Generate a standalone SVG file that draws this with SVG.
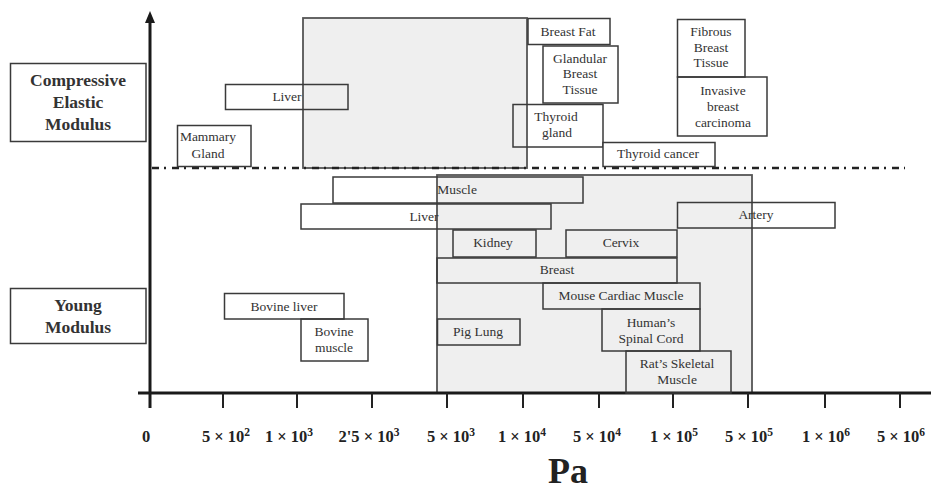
<svg xmlns="http://www.w3.org/2000/svg" width="931" height="490" viewBox="0 0 931 490">
<style>
.bx{fill:none;stroke:#3a3a3a;stroke-width:1.5}
.bxw{fill:#fff;stroke:#3a3a3a;stroke-width:1.5}
.rg{fill:#efefef;stroke:#555;stroke-width:1.8}
.t{font-family:"Liberation Serif","Times New Roman",serif;font-size:13.5px;fill:#333;text-anchor:middle}
.h{font-family:"Liberation Serif","Times New Roman",serif;font-size:17.5px;font-weight:bold;fill:#333;text-anchor:middle}
.tk{font-family:"Liberation Serif","Times New Roman",serif;font-size:16.5px;font-weight:bold;fill:#222;text-anchor:middle}
.ax{stroke:#1a1a1a;stroke-width:3;fill:none}
.tick{stroke:#222;stroke-width:2}
</style>
<rect width="931" height="490" fill="#fff"/>

<g id="region-compressive"><rect class="rg" x="303" y="18" width="224" height="150"/></g>
<g id="region-young"><rect class="rg" x="437" y="175" width="315" height="218"/></g>

<g id="connectors">
<line class="ax" x1="150" y1="408" x2="150" y2="22"/>
<path d="M150,11 L155,23 L145,23 Z" fill="#1a1a1a"/>
<line class="ax" x1="138" y1="393" x2="931" y2="393"/>
<line x1="152" y1="168" x2="905" y2="168" stroke="#222" stroke-width="2.5" stroke-dasharray="7 5 2 6"/>
<g class="tick">
<line x1="223" y1="393" x2="223" y2="408"/>
<line x1="297" y1="393" x2="297" y2="408"/>
<line x1="372" y1="393" x2="372" y2="408"/>
<line x1="447" y1="393" x2="447" y2="408"/>
<line x1="523" y1="393" x2="523" y2="408"/>
<line x1="599" y1="393" x2="599" y2="408"/>
<line x1="673" y1="393" x2="673" y2="408"/>
<line x1="748" y1="393" x2="748" y2="408"/>
<line x1="825" y1="393" x2="825" y2="408"/>
<line x1="900" y1="393" x2="900" y2="408"/>
</g>
</g>

<g id="axis-labels">
<text class="tk" x="146" y="442">0</text>
<text class="tk" x="226" y="442">5 × 10<tspan dy="-6" font-size="11.5">2</tspan></text>
<text class="tk" x="289" y="442">1 × 10<tspan dy="-6" font-size="11.5">3</tspan></text>
<text class="tk" x="369" y="442">2'5 × 10<tspan dy="-6" font-size="11.5">3</tspan></text>
<text class="tk" x="451" y="442">5 × 10<tspan dy="-6" font-size="11.5">3</tspan></text>
<text class="tk" x="522" y="442">1 × 10<tspan dy="-6" font-size="11.5">4</tspan></text>
<text class="tk" x="597" y="442">5 × 10<tspan dy="-6" font-size="11.5">4</tspan></text>
<text class="tk" x="674" y="442">1 × 10<tspan dy="-6" font-size="11.5">5</tspan></text>
<text class="tk" x="749" y="442">5 × 10<tspan dy="-6" font-size="11.5">5</tspan></text>
<text class="tk" x="826" y="442">1 × 10<tspan dy="-6" font-size="11.5">6</tspan></text>
<text class="tk" x="901" y="442">5 × 10<tspan dy="-6" font-size="11.5">6</tspan></text>
<text x="568" y="483" font-family="Liberation Serif, Times New Roman, serif" font-size="36" font-weight="bold" fill="#222" text-anchor="middle">Pa</text>
</g>

<g id="label-compressive">
<rect class="bxw" x="10.5" y="63.5" width="135.5" height="78"/>
<text class="h" x="78" y="86">Compressive</text>
<text class="h" x="78" y="108">Elastic</text>
<text class="h" x="78" y="130">Modulus</text>
</g>
<g id="label-young">
<rect class="bxw" x="10.5" y="288.5" width="135.5" height="55"/>
<text class="h" x="78" y="311">Young</text>
<text class="h" x="78" y="333">Modulus</text>
</g>

<g id="liver-c"><rect class="bx" x="225.5" y="84.5" width="122.5" height="25"/><text class="t" x="287" y="101">Liver</text></g>
<g id="mammary-gland"><rect class="bxw" x="177.5" y="125.5" width="73.5" height="41"/><text class="t" x="208" y="141">Mammary</text><text class="t" x="208" y="158">Gland</text></g>
<g id="breast-fat"><rect class="bx" x="528" y="18.5" width="82" height="26"/><text class="t" x="568" y="36">Breast Fat</text></g>
<g id="glandular"><rect class="bx" x="543" y="46" width="75" height="57"/><text class="t" x="580" y="63">Glandular</text><text class="t" x="580" y="78">Breast</text><text class="t" x="580" y="94">Tissue</text></g>
<g id="thyroid-gland"><rect class="bx" x="513" y="104.5" width="90" height="42.5"/><text class="t" x="556" y="121">Thyroid</text><text class="t" x="557" y="137">gland</text></g>
<g id="thyroid-cancer"><rect class="bxw" x="603" y="142.5" width="112" height="24"/><text class="t" x="658" y="158">Thyroid cancer</text></g>
<g id="fibrous"><rect class="bx" x="677.5" y="19.5" width="67.5" height="57.5"/><text class="t" x="711" y="36">Fibrous</text><text class="t" x="711" y="52">Breast</text><text class="t" x="711" y="67">Tissue</text></g>
<g id="invasive"><rect class="bx" x="677.5" y="77" width="89.5" height="59"/><text class="t" x="723" y="95">Invasive</text><text class="t" x="723" y="111">breast</text><text class="t" x="723" y="127">carcinoma</text></g>

<g id="muscle"><rect class="bx" x="333" y="177" width="250" height="26"/><text class="t" x="457" y="194">Muscle</text></g>
<g id="liver-y"><rect class="bx" x="301" y="204" width="250" height="25"/><text class="t" x="424" y="221">Liver</text></g>
<g id="artery"><rect class="bx" x="677.5" y="202.5" width="157.5" height="25.5"/><text class="t" x="756" y="219">Artery</text></g>
<g id="kidney"><rect class="bx" x="453" y="230" width="83" height="27" stroke-width="2"/><text class="t" x="493" y="247">Kidney</text></g>
<g id="cervix"><rect class="bx" x="566" y="230" width="111" height="27" stroke-width="2"/><text class="t" x="621" y="247">Cervix</text></g>
<g id="breast"><rect class="bx" x="437" y="258" width="240" height="25"/><text class="t" x="557" y="274">Breast</text></g>
<g id="mouse-cardiac"><rect class="bx" x="543" y="283" width="157" height="26"/><text class="t" x="621" y="300">Mouse Cardiac Muscle</text></g>
<g id="human-spinal"><rect class="bx" x="602" y="309" width="98" height="42"/><text class="t" x="651" y="327">Human’s</text><text class="t" x="651" y="343">Spinal Cord</text></g>
<g id="rat-skeletal"><rect class="bx" x="626" y="351" width="105" height="42"/><text class="t" x="677" y="368">Rat’s Skeletal</text><text class="t" x="677" y="384">Muscle</text></g>
<g id="pig-lung"><rect class="bx" x="437.5" y="319" width="82.5" height="26"/><text class="t" x="478" y="336">Pig Lung</text></g>
<g id="bovine-liver"><rect class="bx" x="224.5" y="293.5" width="119.5" height="25.5"/><text class="t" x="284" y="311">Bovine liver</text></g>
<g id="bovine-muscle"><rect class="bx" x="301" y="319" width="67" height="42"/><text class="t" x="334" y="336">Bovine</text><text class="t" x="334" y="352">muscle</text></g>
</svg>
